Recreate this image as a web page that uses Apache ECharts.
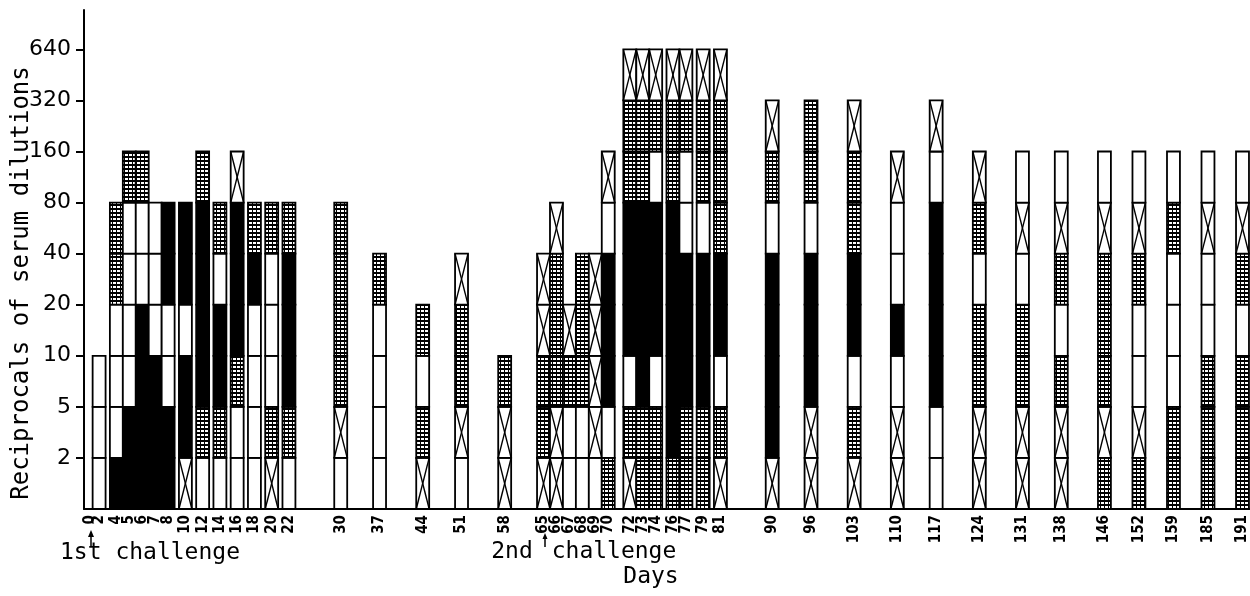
<!DOCTYPE html>
<html>
<head>
<meta charset="utf-8">
<title>Reciprocals of serum dilutions</title>
<script src="https://cdn.jsdelivr.net/npm/echarts@6/dist/echarts.min.js"></script>
<style>
  html, body { margin: 0; padding: 0; background: #fff; }
  #chart { width: 1250px; height: 596px; }
</style>
</head>
<body>
<div id="chart"></div>
<script>
// titre steps on the y axis, index 0 is the baseline
var dilutionLabels = ['', '2', '5', '10', '20', '40', '80', '160', '320', '640']

// x tick labels, "_n" = n empty ticks (the drawing is not to scale in days)
var dayTicks = '_1 0 _1 2 _3 4 _2 5 _2 6 _2 7 _2 8 _3 10 _3 12 _3 14 _3 16 _3 18 _3 20 _3 22 ' +
  '_11 30 _8 37 _9 44 _8 51 _9 58 _8 65 _2 66 _2 67 _2 68 _2 69 _2 70 _4 72 _2 73 _2 74 ' +
  '_3 76 _2 77 _3 79 _3 81 _11 90 _8 96 _9 103 _9 110 _8 117 _9 124 _9 131 _8 138 ' +
  '_9 146 _7 152 _7 159 _7 185 _7 191 _1'

// days that have a column
var days = ['2', '4', '5', '6', '7', '8', '10', '12', '14', '16', '18', '20', '22',
  '30', '37', '44', '51', '58',
  '65', '66', '67', '68', '69', '70', '72', '73', '74', '76', '77', '79', '81',
  '90', '96', '103', '110', '117', '124', '131', '138', '146', '152', '159', '185', '191']

// one letter per dilution step, bottom -> top
// W = blank, G = cross-hatched, B = solid, X = crossed box
var cellPatterns = ['WWW', 'BWWWGG', 'BBWWWWG', 'BBBBWWG', 'BBBWWW', 'BBWWBB', 'XBBWBB',
  'WGBBBBG', 'WGBBWG', 'WWGBBBX', 'WWWWBG', 'XGWWWG', 'WGBBBG',
  'WXGGGG', 'WWWWG', 'XGWG', 'WXGGX', 'XXG',
  'XGGXX', 'XXGGGX', 'WWGX', 'WWGGG', 'WXXXX', 'GWBBBWX',
  'XGWBBBGGX', 'GGBBBBGGX', 'GGWBBBWGX', 'GBBBBBGGX', 'GGBBBWWGX', 'GGBBBWGGX', 'XGWBBGGGX',
  'XBBBBWGX', 'XXBBBWGG', 'XGWBBGGX', 'XXWBWWX', 'WWBBBBWX',
  'XXGGWGX', 'XXGGWXW', 'XXGWGXW', 'GXGGGXW', 'GXWWGXW', 'GGWWWGW', 'GGGWWXW', 'GGGWGXW']

var xCategories = []
dayTicks.split(' ').forEach(function(t) {
  if (t.charAt(0) === '_') {
    for (var k = 0; k < +t.slice(1); k++) xCategories.push('')
  } else {
    xCategories.push(t)
  }
})

var cellData = []
days.forEach(function(d, i) {
  var col = xCategories.indexOf(d)
  cellPatterns[i].split('').forEach(function(kind, step) {
    cellData.push([col, step + 1, kind])
  })
})

var stepTicks = dilutionLabels.map(function(l, i) { return i }).filter(function(i) { return i > 0 })

// cross-hatch tile
var hatch = document.createElement('canvas')
hatch.width = 4
hatch.height = 4
var hctx = hatch.getContext('2d')
hctx.fillStyle = '#fff'
hctx.fillRect(0, 0, 4, 4)
hctx.fillStyle = '#000'
hctx.fillRect(0, 0, 4, 2)
hctx.fillRect(0, 0, 1, 4)

function renderCell(params, api) {
  var kind = cellData[params.dataIndex][2]
  var top = api.coord([api.value(0), api.value(1)])
  var bottom = api.coord([api.value(0), api.value(1) - 1])
  var w = api.size([1, 0])[0] * 3
  var x = top[0] - w / 2
  var y = top[1]
  var h = bottom[1] - top[1]
  var fill = '#fff'
  if (kind === 'B') fill = '#000'
  if (kind === 'G') fill = { image: hatch, repeat: 'repeat' }
  var children = [{
    type: 'rect',
    shape: { x: x, y: y, width: w, height: h },
    style: { fill: fill, stroke: '#000', lineWidth: 1.8 }
  }]
  if (kind === 'X') {
    children.push({
      type: 'line',
      shape: { x1: x, y1: y, x2: x + w, y2: y + h },
      style: { stroke: '#000', lineWidth: 1.4 }
    })
    children.push({
      type: 'line',
      shape: { x1: x + w, y1: y, x2: x, y2: y + h },
      style: { stroke: '#000', lineWidth: 1.4 }
    })
  }
  return { type: 'group', children: children }
}

var titleFont = '23px "DejaVu Sans Mono", monospace'

var chart = echarts.init(document.getElementById('chart'))
chart.setOption({
  animation: false,
  grid: { left: 84, right: 0, top: 10, bottom: 87 },
  xAxis: {
    type: 'category',
    data: xCategories,
    axisLine: { lineStyle: { color: '#000', width: 2 } },
    axisTick: { show: false },
    axisLabel: {
      interval: 0,
      rotate: 90,
      margin: 6,
      color: '#000',
      fontSize: 15,
      fontWeight: 'bold',
      fontFamily: '"Liberation Sans Narrow", "DejaVu Sans Condensed", sans-serif'
    }
  },
  yAxis: {
    type: 'value',
    min: 0,
    max: 9.77,
    interval: 1,
    splitLine: { show: false },
    axisLine: { show: true, lineStyle: { color: '#000', width: 2 } },
    axisTick: { show: true, length: 8, customValues: stepTicks, lineStyle: { color: '#000', width: 2 } },
    axisLabel: {
      customValues: stepTicks,
      margin: 13,
      color: '#000',
      fontSize: 22,
      fontFamily: '"DejaVu Sans", sans-serif',
      formatter: function(v) { return dilutionLabels[v] || '' }
    }
  },
  series: [{
    type: 'custom',
    renderItem: renderCell,
    encode: { x: 0, y: 1 },
    data: cellData
  }],
  graphic: [
    {
      type: 'text', x: 22, y: 283, rotation: Math.PI / 2,
      style: { text: 'Reciprocals of serum dilutions', font: '24px "DejaVu Sans Mono", monospace', fill: '#000', align: 'center', verticalAlign: 'middle' }
    },
    {
      type: 'text', x: 150, y: 553,
      style: { text: '1st challenge', font: titleFont, fill: '#000', align: 'center', verticalAlign: 'middle' }
    },
    {
      type: 'text', x: 512, y: 552,
      style: { text: '2nd', font: titleFont, fill: '#000', align: 'center', verticalAlign: 'middle' }
    },
    {
      type: 'text', x: 614, y: 552,
      style: { text: 'challenge', font: titleFont, fill: '#000', align: 'center', verticalAlign: 'middle' }
    },
    {
      type: 'text', x: 651, y: 577,
      style: { text: 'Days', font: titleFont, fill: '#000', align: 'center', verticalAlign: 'middle' }
    },
    { type: 'line', shape: { x1: 91, y1: 547, x2: 91, y2: 534 }, style: { stroke: '#000', lineWidth: 1.5 } },
    { type: 'polygon', shape: { points: [[88, 537], [94, 537], [91, 530]] }, style: { fill: '#000' } },
    { type: 'line', shape: { x1: 545, y1: 547, x2: 545, y2: 536 }, style: { stroke: '#000', lineWidth: 1.5 } },
    { type: 'polygon', shape: { points: [[542.5, 539], [547.5, 539], [545, 533]] }, style: { fill: '#000' } }
  ]
})
</script>
</body>
</html>
